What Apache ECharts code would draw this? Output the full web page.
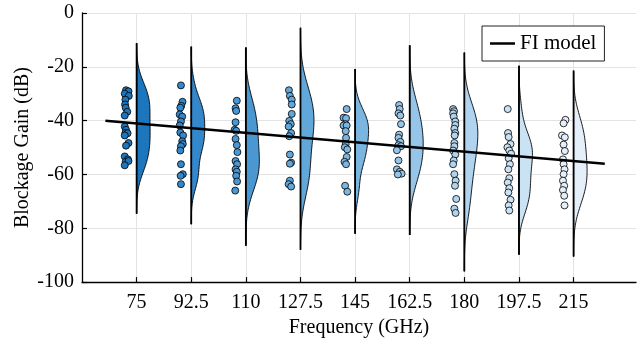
<!DOCTYPE html>
<html>
<head>
<meta charset="utf-8">
<script src="https://cdn.jsdelivr.net/npm/echarts@6/dist/echarts.min.js"></script>
<style>
  html, body { margin: 0; padding: 0; background: #fff; }
  #chart { width: 637px; height: 343px; }
</style>
</head>
<body>
<div id="chart"></div>
<script>
// frequency groups (GHz)
const freqs = [75, 92.5, 110, 127.5, 145, 162.5, 180, 197.5, 215];

const gain75  = [-28.7, -29.1, -30, -30.8, -32.2, -34, -35.2, -36.7, -38.1, -42.2, -43.4, -44.6, -44.7, -45.5, -48.3, -49.3, -53.3, -54.4, -55.3, -55, -56.6];
const jit75   = [-3.4, -2.6, -3.8, -2.5, -3.6, -3.7, -3.5, -3.0, -3.8, -3.8, -3.4, -3.6, -2.9, -3.8, -2.6, -3.4, -3.8, -2.8, -3.5, -2.6, -3.8];
const gain92  = [-26.9, -33, -34.5, -35.2, -37.7, -38.5, -40.3, -41.8, -44.4, -45.5, -47.7, -48.7, -49.5, -51.1, -56.2, -59.9, -60.5, -63.6];
const jit92   = [-3.3, -2.8, -3.2, -3.5, -3.7, -2.9, -3.3, -3.7, -3.5, -2.6, -2.9, -2.7, -3.3, -3.5, -3.3, -2.7, -3.4, -3.3];
const gain110 = [-32.6, -35.4, -36.4, -40.6, -43.4, -43.8, -46.8, -49.1, -51.7, -55, -56.2, -58.1, -59, -60.5, -62.6, -66];
const jit110  = [-2.9, -3.3, -3.1, -3.3, -3.6, -3.1, -3.3, -2.9, -2.7, -3.3, -2.8, -3.3, -2.9, -3.1, -2.8, -3.4];
const gain127 = [-28.7, -30.8, -32.2, -34, -37.5, -40.1, -41.3, -42.2, -44.6, -45.8, -52.6, -55.6, -56, -62.3, -63.6, -64.5];
const jit127  = [-3.7, -3.4, -2.8, -2.8, -2.8, -3.6, -3.1, -3.8, -3.0, -3.6, -3.4, -3.0, -3.4, -3.4, -3.8, -3.0];
const gain145 = [-35.7, -38.9, -39.1, -41.3, -41.8, -41.8, -43.9, -46.4, -48.7, -49.9, -50.7, -53.5, -55.3, -56.2, -64.2, -66.4];
const jit145  = [-2.7, -3.7, -2.9, -3.1, -3.7, -2.7, -3.0, -2.9, -3.0, -3.3, -2.5, -2.7, -3.4, -2.9, -3.2, -2.5];
const gain162 = [-34.2, -35.7, -37.3, -38.1, -41.3, -45.2, -46.4, -47.9, -49.1, -49.5, -51, -54.8, -58.1, -59, -59.7, -60];
const jit162  = [-3.4, -3.2, -3.6, -3.0, -2.8, -3.4, -3.6, -3.0, -3.6, -2.8, -4.1, -3.6, -4.1, -3.2, -2.6, -3.8];
const gain180 = [-35.7, -36.5, -37.3, -38.5, -40.3, -41.6, -43, -44.6, -45.5, -48.3, -49.5, -51.1, -52.6, -54.8, -56.2, -59.9, -62.3, -64.2, -69.1, -72.7, -74.3];
const jit180  = [-3.6, -3.3, -3.6, -3.4, -2.9, -2.9, -3.2, -2.9, -3.1, -3.2, -3.2, -3.6, -2.9, -3.4, -3.6, -3.2, -2.8, -3.0, -2.6, -3.2, -2.8];
const gain197 = [-35.7, -44.6, -46.1, -48.7, -49.9, -51.1, -52.3, -54, -56.2, -58.1, -61.4, -63, -65.1, -66.7, -69.4, -71.5, -73.4];
const jit197  = [-3.6, -3.5, -3.3, -2.7, -3.7, -3.1, -2.5, -3.3, -2.9, -3.4, -3.1, -3.6, -3.1, -3.4, -2.7, -3.3, -3.1];
const gain215 = [-39.7, -41, -45.5, -46.2, -48.9, -51.3, -54.4, -56.2, -58.1, -59.9, -62.3, -64.2, -65.8, -67.9, -71.5];
const jit215  = [-2.6, -3.2, -3.7, -2.8, -3.2, -2.8, -3.4, -3.2, -2.9, -3.2, -3.4, -3.0, -3.4, -3.0, -2.9];

// extent of each density estimate (vertical line), dB
const kdeLow  = [-74.6, -78.5, -86.5, -88, -82, -82.5, -96, -89.8, -90.5];
const kdeHigh = [-11.2, -12.5, -12.8, -5.5, -20.8, -12, -14.7, -19.6, -21.4];

// FI model line
const fiFreq = [65, 225];
const fiGain = [-40, -56];

const gains   = [gain75, gain92, gain110, gain127, gain145, gain162, gain180, gain197, gain215];
const jitters = [jit75, jit92, jit110, jit127, jit145, jit162, jit180, jit197, jit215];
const colors  = ['#1b76bd', '#3487ca', '#4a97d2', '#62a7da', '#7bb6e1', '#95c5e8', '#b0d4ef', '#cae3f4', '#e5effa'];

const FONT = "'Liberation Serif', 'Times New Roman', serif";
const violinWidth = 13.5; // px at peak

// gaussian kde, bandwidth taken from the drawn support (support = data range +- 3h)
function violinShape(vals, lo, hi) {
  const mn = Math.min(...vals), mx = Math.max(...vals);
  const h = ((hi - mx) + (mn - lo)) / 6;
  const pts = [];
  for (let i = 0; i <= 120; i++) {
    const v = lo + (hi - lo) * i / 120;
    let d = 0;
    vals.forEach(x => { d += Math.exp(-0.5 * ((v - x) / h) ** 2); });
    pts.push([v, d]);
  }
  const dmax = Math.max(...pts.map(p => p[1]));
  return pts.map(p => [p[0], p[1] / dmax]);
}
const shapes = gains.map((g, i) => violinShape(g, kdeLow[i], kdeHigh[i]));

const chart = echarts.init(document.getElementById('chart'));

const scatterSeries = gains.map((g, i) => ({
  name: 'g' + freqs[i],
  type: 'scatter',
  z: 3,
  symbolSize: 7,
  itemStyle: { color: colors[i], borderColor: '#000', borderWidth: 0.8, opacity: 1 },
  data: g.map((v, k) => [freqs[i] + jitters[i][k], v]),
}));

chart.setOption({
  animation: false,
  textStyle: { fontFamily: FONT },
  grid: { left: 82, right: 1, top: 13, bottom: 57 },
  legend: {
    data: ['FI model'],
    left: 482, top: 26,
    padding: [7, 8, 7, 8],
    borderColor: '#222', borderWidth: 1, borderRadius: 0,
    backgroundColor: '#fff',
    icon: 'rect', itemWidth: 25, itemHeight: 2.5, itemGap: 6,
    textStyle: { fontFamily: FONT, fontSize: 21, color: '#000' },
  },
  xAxis: {
    type: 'value', min: 57.5, max: 235,
    name: 'Frequency (GHz)', nameLocation: 'middle', nameGap: 32,
    nameTextStyle: { fontFamily: FONT, fontSize: 20, color: '#000' },
    axisLine: { onZero: false, lineStyle: { color: '#000', width: 1.3 } },
    axisTick: { inside: true, length: 5, customValues: freqs, lineStyle: { color: '#000', width: 1.2 } },
    axisLabel: { customValues: freqs, margin: 11, fontFamily: FONT, fontSize: 20, color: '#000', formatter: v => String(v) },
    splitLine: { show: true, lineStyle: { color: '#e3e3e3', width: 1 } },
  },
  yAxis: {
    type: 'value', min: -100, max: 0, interval: 20,
    name: 'Blockage Gain (dB)', nameLocation: 'middle', nameGap: 49, nameMoveOverlap: false,
    nameTextStyle: { fontFamily: FONT, fontSize: 20, color: '#000' },
    axisLine: { show: true, lineStyle: { color: '#000', width: 1.3 } },
    axisTick: { show: true, inside: true, length: 5, lineStyle: { color: '#000', width: 1.2 } },
    axisLabel: { margin: 8, fontFamily: FONT, fontSize: 20, color: '#000' },
    splitLine: { show: true, lineStyle: { color: '#e3e3e3', width: 1 } },
  },
  series: [
    {
      name: 'violins',
      type: 'custom',
      z: 2,
      data: freqs.map((f, i) => [f, kdeLow[i], kdeHigh[i]]),
      encode: { x: 0, y: [1, 2] },
      renderItem: (params, api) => {
        const i = params.dataIndex;
        const f = freqs[i];
        const poly = shapes[i].map(([v, w]) => {
          const p = api.coord([f, v]);
          return [p[0] + w * violinWidth, p[1]];
        });
        const a = api.coord([f, kdeLow[i]]);
        const b = api.coord([f, kdeHigh[i]]);
        return {
          type: 'group',
          children: [
            { type: 'polygon', shape: { points: poly }, style: { fill: colors[i], stroke: '#000', lineWidth: 0.9 } },
            { type: 'line', shape: { x1: a[0], y1: a[1], x2: b[0], y2: b[1] }, style: { stroke: '#000', lineWidth: 1.8 } },
          ],
        };
      },
    },
    ...scatterSeries,
    {
      name: 'FI model',
      type: 'line',
      z: 4,
      symbol: 'none',
      lineStyle: { color: '#000', width: 2.5 },
      itemStyle: { color: '#000' },
      data: fiFreq.map((f, i) => [f, fiGain[i]]),
    },
  ],
});
</script>
</body>
</html>
